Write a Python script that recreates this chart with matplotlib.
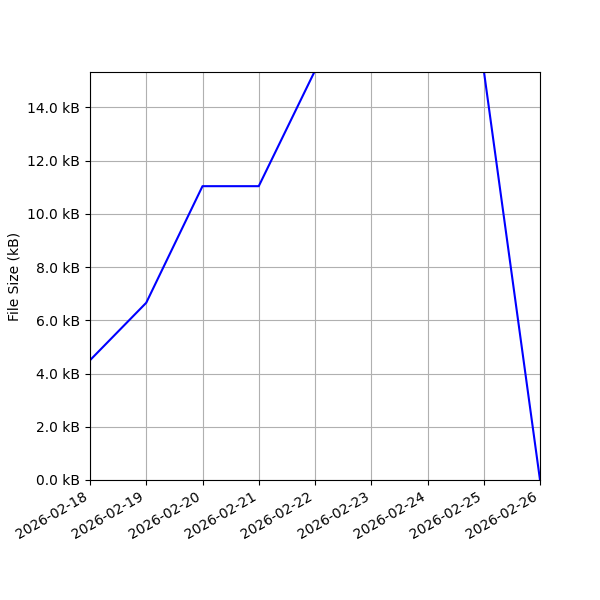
import matplotlib
matplotlib.use("Agg")
import matplotlib.pyplot as plt
import matplotlib.dates as mdates
import matplotlib.ticker as mticker
import pandas as pd

# Dados (valores em kB)
dates = ["2026-02-18", "2026-02-19", "2026-02-20", "2026-02-21", "2026-02-22",
         "2026-02-23", "2026-02-24", "2026-02-25", "2026-02-26"]
sizes_kb = [4.5, 6.66, 11.04, 11.04, 15.38, 18.0, 18.0, 15.4, 0.0]
y_top = 15.33

x = pd.to_datetime(dates)

fig, ax = plt.subplots(figsize=(6, 6), dpi=100)
ax.plot(x, sizes_kb, color="blue")

ax.set_ylabel("File Size (kB)")
ax.set_ylim(0, y_top)
ax.set_xlim(x[0], x[-1])
ax.yaxis.set_major_locator(mticker.MultipleLocator(2))
ax.yaxis.set_major_formatter(mticker.FuncFormatter(lambda v, p: f"{v:.1f} kB"))
ax.xaxis.set_major_locator(mdates.DayLocator())
ax.xaxis.set_major_formatter(mdates.DateFormatter("%Y-%m-%d"))
ax.grid(True)

fig.autofmt_xdate()
fig.subplots_adjust(left=0.15, right=0.9, top=0.88, bottom=0.2)
fig.savefig("out.png")
